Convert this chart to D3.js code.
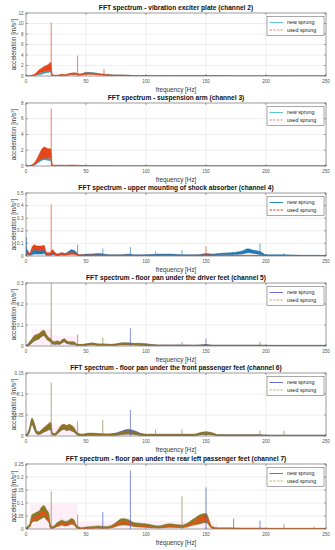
<!DOCTYPE html>
<html><head><meta charset="utf-8">
<script src="https://cdn.jsdelivr.net/npm/d3@7"></script>
<style>body{margin:0;background:#fff}svg{display:block}text{font-family:"Liberation Sans",Arial,Helvetica,sans-serif}</style>
</head><body><svg id="c" width="335" height="550"></svg>
<script>
// ---------------- DATA ----------------
const freqHz = [0,1,3,5,7,9,11,13,15,17,
  19,20.5,22,24,26,28,30,32,34,36,
  38,40,42,44,47,50,55,60,65,70,
  75,80,85,90,95,100,110,120,130,140,
  145,150,155,160,170,180,185,190,195,200,
  215,230,250];
const xTicks = [0,50,100,150,200,250];
const legendLabels = ["new sprung","used sprung"];
const titles = [
  "FFT spectrum - vibration exciter plate (channel 2)",
  "FFT spectrum - suspension arm (channel 3)",
  "FFT spectrum - upper mounting of shock absorber (channel 4)",
  "FFT spectrum - floor pan under the driver feet (channel 5)",
  "FFT spectrum - floor pan under the front passenger feet (channel 6)",
  "FFT spectrum - floor pan under the rear left passenger feet (channel 7)"
];
const yMaxes = [12, 8, 0.5, 0.3, 0.15, 0.25];
const yTicks2 = [0,2,4,6,8,10,12];
const yTicks3 = [0,2,4,6,8];
const yTicks4 = [0,0.1,0.2,0.3,0.4,0.5];
const yTicks5 = [0,0.1,0.2,0.3];
const yTicks6 = [0,0.05,0.1,0.15];
const yTicks7 = [0,0.05,0.1,0.15,0.2,0.25];

// channel 2
const ch2_usedHi = [0,0,0.05,0.15,0.35,0.7,1.2,1.5,1.8,2.0, 2.3,2.6,0.3,0.15,0.15,0.25,0.35,0.25,0.35,0.5, 0.55,0.6,0.55,0.4,0.45,0.6,0.55,0.45,0.3,0.25, 0.2,0.2,0.15,0.08,0.06,0.05,0.04,0.04,0.03,0.03, 0.03,0.03,0.03,0.03,0.02,0.02,0.02,0.02,0.02,0.02, 0.02,0.01,0.01];
const ch2_usedLo = [0,0,0.02,0.05,0.15,0.3,0.5,0.7,0.8,0.9, 1.0,1.1,0.1,0.05,0.05,0.1,0.15,0.1,0.15,0.25, 0.3,0.3,0.3,0.2,0.2,0.3,0.3,0.2,0.15,0.1, 0.08,0.08,0.06,0.03,0.02,0.02,0.01,0.01,0.01,0.01, 0.01,0.01,0.01,0.01,0.01,0.01,0.01,0.01,0.01,0.01, 0.01,0,0];
const ch2_newHi = [0,0,0.03,0.08,0.15,0.3,0.45,0.6,0.75,0.85, 0.95,1.0,0.15,0.08,0.08,0.15,0.2,0.15,0.2,0.35, 0.4,0.45,0.45,0.3,0.45,0.72,0.65,0.5,0.35,0.25, 0.2,0.2,0.15,0.08,0.06,0.05,0.04,0.04,0.03,0.03, 0.03,0.03,0.03,0.03,0.02,0.02,0.02,0.02,0.02,0.02, 0.02,0.01,0.01];
const ch2_newLo = [0,0,0.01,0.03,0.08,0.15,0.25,0.35,0.5,0.6, 0.7,0.75,0.05,0.03,0.03,0.06,0.1,0.06,0.1,0.2, 0.25,0.25,0.25,0.15,0.25,0.5,0.45,0.3,0.2,0.12, 0.1,0.1,0.06,0.03,0.02,0.02,0.01,0.01,0.01,0.01, 0.01,0.01,0.01,0.01,0.01,0.01,0.01,0.01,0.01,0.01, 0.01,0,0];
const ch2_spikeHz = [21,30,43,65];
const ch2_spikeVal = [10.2,0.4,3.9,1.3];
const ch2_spikeSeries = ["used","used","used","used"];

// channel 3
const ch3_usedHi = [0,0,0.05,0.15,0.4,0.9,1.5,2.1,2.4,2.3, 2.2,2.2,0.15,0.1,0.1,0.1,0.1,0.1,0.1,0.12, 0.12,0.12,0.1,0.08,0.05,0.03,0.02,0.02,0.02,0.01, 0.01,0.01,0.01,0.01,0.01,0.01,0.01,0.01,0.01,0.01, 0.01,0.01,0.01,0.01,0.01,0.01,0.01,0.01,0.01,0.01, 0.01,0.01,0.01];
const ch3_usedLo = [0,0,0.02,0.05,0.2,0.4,0.7,0.9,1.0,1.0, 1.0,1.0,0.05,0.03,0.03,0.03,0.03,0.03,0.03,0.04, 0.04,0.04,0.03,0.02,0.01,0.01,0,0,0,0, 0,0,0,0,0,0,0,0,0,0, 0,0,0,0,0,0,0,0,0,0, 0,0,0];
const ch3_newHi = [0,0,0.03,0.1,0.25,0.5,0.8,1.0,1.1,1.0, 0.95,0.9,0.1,0.05,0.05,0.05,0.05,0.05,0.05,0.06, 0.06,0.06,0.05,0.04,0.03,0.02,0.01,0.01,0.01,0.01, 0.01,0.01,0.01,0.01,0.01,0.01,0.01,0.01,0.01,0.01, 0.01,0.01,0.01,0.01,0.01,0.01,0.01,0.01,0.01,0.01, 0.01,0.01,0.01];
const ch3_newLo = [0,0,0.01,0.05,0.1,0.3,0.5,0.7,0.8,0.75, 0.7,0.7,0.03,0.02,0.02,0.02,0.02,0.02,0.02,0.02, 0.02,0.02,0.02,0.01,0.01,0,0,0,0,0, 0,0,0,0,0,0,0,0,0,0, 0,0,0,0,0,0,0,0,0,0, 0,0,0];
const ch3_spikeHz = [21];
const ch3_spikeVal = [7.3];
const ch3_spikeSeries = ["used"];

// channel 4
const ch4_usedHi = [0.03,0.04,0.02,0.07,0.09,0.08,0.08,0.08,0.085,0.03, 0.025,0.03,0.05,0.03,0.015,0.02,0.025,0.02,0.02,0.025, 0.03,0.025,0.02,0.01,0.01,0.008,0.01,0.008,0.008,0.006, 0.006,0.008,0.008,0.006,0.006,0.006,0.006,0.006,0.006,0.006, 0.008,0.01,0.008,0.006,0.006,0.006,0.006,0.006,0.006,0.005, 0.005,0.004,0.004];
const ch4_usedLo = [0.01,0.015,0.008,0.04,0.05,0.045,0.045,0.045,0.05,0.01, 0.01,0.01,0.02,0.01,0.005,0.008,0.01,0.008,0.008,0.01, 0.012,0.01,0.008,0.004,0.004,0.003,0.004,0.003,0.003,0.002, 0.002,0.003,0.003,0.002,0.002,0.002,0.002,0.002,0.002,0.002, 0.003,0.004,0.003,0.002,0.002,0.002,0.002,0.002,0.002,0.002, 0.002,0.001,0.001];
const ch4_newHi = [0.06,0.05,0.02,0.04,0.05,0.045,0.045,0.045,0.05,0.02, 0.02,0.02,0.04,0.025,0.015,0.02,0.025,0.02,0.025,0.04, 0.05,0.045,0.03,0.01,0.01,0.015,0.015,0.02,0.015,0.01, 0.01,0.01,0.015,0.01,0.01,0.01,0.015,0.015,0.01,0.01, 0.012,0.02,0.015,0.02,0.025,0.04,0.058,0.045,0.035,0.01, 0.01,0.005,0.005];
const ch4_newLo = [0.01,0.01,0.005,0.01,0.015,0.015,0.015,0.015,0.02,0.005, 0.005,0.005,0.01,0.008,0.004,0.006,0.008,0.006,0.01,0.02, 0.025,0.02,0.01,0.003,0.003,0.005,0.005,0.008,0.005,0.003, 0.003,0.003,0.005,0.003,0.003,0.003,0.005,0.005,0.003,0.003, 0.004,0.008,0.005,0.008,0.01,0.015,0.025,0.02,0.012,0.003, 0.003,0.001,0.001];
const ch4_spikeHz = [0.5,21,43,64,87,108,130,150,172,195,215];
const ch4_spikeVal = [0.15,0.41,0.09,0.06,0.07,0.035,0.045,0.075,0.03,0.1,0.02];
const ch4_spikeSeries = ["new","used","new","new","new","new","new","used","new","new","new"];

// channel 5
const ch5_usedHi = [0,0.005,0.02,0.035,0.05,0.055,0.06,0.07,0.075,0.055, 0.04,0.035,0.025,0.02,0.025,0.02,0.03,0.035,0.025,0.02, 0.02,0.02,0.01,0.008,0.008,0.01,0.015,0.01,0.01,0.008, 0.01,0.015,0.015,0.012,0.01,0.008,0.005,0.005,0.005,0.004, 0.005,0.006,0.004,0.004,0.004,0.004,0.004,0.004,0.004,0.003, 0.003,0.003,0.003];
const ch5_usedLo = [0,0,0.005,0.015,0.025,0.03,0.035,0.045,0.05,0.035, 0.025,0.02,0.01,0.008,0.01,0.008,0.015,0.02,0.012,0.01, 0.008,0.008,0.004,0.003,0.003,0.004,0.006,0.004,0.004,0.003, 0.004,0.006,0.006,0.005,0.004,0.003,0.002,0.002,0.002,0.001, 0.002,0.002,0.001,0.001,0.001,0.001,0.001,0.001,0.001,0.001, 0.001,0.001,0.001];
const ch5_newHi = [0,0.004,0.018,0.032,0.045,0.05,0.055,0.065,0.07,0.05, 0.036,0.03,0.022,0.018,0.022,0.018,0.027,0.032,0.022,0.018, 0.018,0.018,0.009,0.007,0.007,0.009,0.013,0.009,0.009,0.007, 0.009,0.014,0.014,0.012,0.013,0.011,0.005,0.005,0.005,0.004, 0.005,0.007,0.004,0.004,0.004,0.004,0.004,0.004,0.004,0.003, 0.003,0.003,0.003];
const ch5_newLo = ch5_usedLo;
const ch5_shadeFrom = [5,21.7];
const ch5_shadeTo = [21.7,43];
const ch5_shadeTop = [0.081,0.049];
const ch5_spikeHz = [21,43,64,87,130,150,195];
const ch5_spikeVal = [0.3,0.055,0.04,0.085,0.02,0.035,0.02];
const ch5_spikeSeries = ["used","used","used","new","used","new","used"];

// channel 6
const ch6_usedHi = [0.002,0.005,0.02,0.043,0.03,0.012,0.01,0.015,0.02,0.025, 0.03,0.033,0.008,0.006,0.012,0.02,0.027,0.028,0.025,0.028, 0.025,0.02,0.01,0.006,0.004,0.006,0.007,0.006,0.005,0.005, 0.006,0.01,0.013,0.011,0.006,0.004,0.004,0.004,0.004,0.004, 0.008,0.01,0.008,0.003,0.003,0.003,0.003,0.003,0.003,0.002, 0.002,0.002,0.002];
const ch6_usedLo = [0,0.001,0.01,0.028,0.015,0.005,0.004,0.006,0.01,0.012, 0.015,0.015,0.003,0.002,0.005,0.01,0.015,0.016,0.013,0.015, 0.012,0.01,0.004,0.002,0.001,0.002,0.002,0.002,0.002,0.002, 0.002,0.004,0.005,0.004,0.002,0.001,0.001,0.001,0.001,0.001, 0.003,0.004,0.003,0.001,0.001,0.001,0.001,0.001,0.001,0.001, 0.001,0.001,0.001];
const ch6_newHi = [0.002,0.005,0.018,0.04,0.028,0.011,0.009,0.014,0.018,0.023, 0.028,0.03,0.007,0.005,0.011,0.018,0.025,0.026,0.023,0.026, 0.023,0.018,0.009,0.005,0.004,0.005,0.006,0.005,0.005,0.005, 0.007,0.012,0.016,0.013,0.007,0.004,0.004,0.004,0.004,0.004, 0.007,0.009,0.007,0.003,0.003,0.003,0.003,0.003,0.003,0.002, 0.002,0.002,0.002];
const ch6_newLo = ch6_usedLo;
const ch6_shadeFrom = [0,14.5,43];
const ch6_shadeTo = [14.5,43,158];
const ch6_shadeTop = [0.006,0.027,0.005];
const ch6_spikeHz = [21,43,64,87,108,130,150,195,215];
const ch6_spikeVal = [0.127,0.035,0.038,0.062,0.015,0.016,0.012,0.013,0.012];
const ch6_spikeSeries = ["used","used","used","new","used","used","used","used","used"];

// channel 7
const ch7_newHi = [0.005,0.01,0.02,0.055,0.06,0.065,0.07,0.085,0.09,0.075, 0.06,0.015,0.01,0.015,0.025,0.03,0.035,0.03,0.03,0.035, 0.04,0.035,0.015,0.008,0.006,0.008,0.01,0.012,0.01,0.012, 0.025,0.04,0.037,0.025,0.022,0.02,0.012,0.02,0.015,0.04, 0.055,0.06,0.01,0.005,0.005,0.004,0.004,0.004,0.004,0.003, 0.003,0.003,0.003];
const ch7_newLo = [0,0.002,0.008,0.025,0.03,0.03,0.035,0.04,0.045,0.035, 0.025,0.004,0.003,0.006,0.01,0.012,0.015,0.012,0.012,0.015, 0.018,0.015,0.005,0.002,0.002,0.002,0.003,0.004,0.003,0.004, 0.01,0.015,0.014,0.01,0.008,0.007,0.004,0.007,0.005,0.015, 0.02,0.025,0.003,0.001,0.001,0.001,0.001,0.001,0.001,0.001, 0.001,0.001,0.001];
const ch7_usedHi = [0,0.002,0.008,0.04,0.045,0.05,0.055,0.068,0.07,0.055, 0.04,0.004,0.003,0.006,0.015,0.02,0.025,0.02,0.02,0.025, 0.03,0.025,0.005,0.002,0.002,0.002,0.003,0.004,0.003,0.004, 0.018,0.03,0.028,0.015,0.012,0.01,0.006,0.012,0.008,0.03, 0.045,0.05,0.003,0.001,0.001,0.001,0.001,0.001,0.001,0.001, 0.001,0.001,0.001];
const ch7_usedLo = [0,0.002,0.008,0.03,0.035,0.038,0.042,0.05,0.055,0.042, 0.03,0.004,0.003,0.006,0.011,0.014,0.018,0.014,0.014,0.018, 0.022,0.018,0.005,0.002,0.002,0.002,0.003,0.004,0.003,0.004, 0.012,0.02,0.018,0.011,0.009,0.008,0.004,0.008,0.006,0.02, 0.028,0.032,0.003,0.001,0.001,0.001,0.001,0.001,0.001,0.001, 0.001,0.001,0.001];
const ch7_shadeFrom = [3.3,43];
const ch7_shadeTo = [43,160];
const ch7_shadeTop = [0.1,0.03];
const ch7_spikeHz = [21,43,64,87,130,150,173,195,215,240];
const ch7_spikeVal = [0.145,0.055,0.065,0.225,0.125,0.16,0.04,0.032,0.02,0.01];
const ch7_spikeSeries = ["used","used","new","new","used","new","new","new","used","used"];

// ---------------- LAYOUT / STYLE ----------------
const L = 26, R = 326;
const tops = [13,103,193,283,373,464];
const bottoms = [76,166,256,346,436,529];
const styles = [
  {newFill:"#2f9fbf", usedFill:"#e4471c", newSpike:"#2f9fbf", usedSpike:"#e4471c", newLeg:"#5cc3cf", usedLeg:"#ef8a7c"},
  {newFill:"#2f9fbf", usedFill:"#e4471c", newSpike:"#2f9fbf", usedSpike:"#e4471c", newLeg:"#5cc3cf", usedLeg:"#ef8a7c"},
  {newFill:"#1f7ab3", usedFill:"#e2421b", newSpike:"#2a80b8", usedSpike:"#d9541c", newLeg:"#2a80b8", usedLeg:"#e2421b"},
  {newFill:"#5b5fc0", usedFill:"#8c7424", newSpike:"#5560c8", usedSpike:"#8f8250", newLeg:"#6c6cd0", usedLeg:"#c9b26a"},
  {newFill:"#5b5fc0", usedFill:"#8c7424", newSpike:"#5560c8", usedSpike:"#8f8250", newLeg:"#6c6cd0", usedLeg:"#c9b26a"},
  {newFill:"#857a28", usedFill:"#dc561c", newSpike:"#4f5cc8", usedSpike:"#8f8250", newLeg:"#6c6cd0", usedLeg:"#c9b26a"}
];
const data = [
  {nH:ch2_newHi,nL:ch2_newLo,uH:ch2_usedHi,uL:ch2_usedLo,sHz:ch2_spikeHz,sV:ch2_spikeVal,sS:ch2_spikeSeries,yt:yTicks2},
  {nH:ch3_newHi,nL:ch3_newLo,uH:ch3_usedHi,uL:ch3_usedLo,sHz:ch3_spikeHz,sV:ch3_spikeVal,sS:ch3_spikeSeries,yt:yTicks3},
  {nH:ch4_newHi,nL:ch4_newLo,uH:ch4_usedHi,uL:ch4_usedLo,sHz:ch4_spikeHz,sV:ch4_spikeVal,sS:ch4_spikeSeries,yt:yTicks4},
  {nH:ch5_newHi,nL:ch5_newLo,uH:ch5_usedHi,uL:ch5_usedLo,sHz:ch5_spikeHz,sV:ch5_spikeVal,sS:ch5_spikeSeries,yt:yTicks5,
    shF:ch5_shadeFrom,shT:ch5_shadeTo,shY:ch5_shadeTop},
  {nH:ch6_newHi,nL:ch6_newLo,uH:ch6_usedHi,uL:ch6_usedLo,sHz:ch6_spikeHz,sV:ch6_spikeVal,sS:ch6_spikeSeries,yt:yTicks6,
    shF:ch6_shadeFrom,shT:ch6_shadeTo,shY:ch6_shadeTop},
  {nH:ch7_newHi,nL:ch7_newLo,uH:ch7_usedHi,uL:ch7_usedLo,sHz:ch7_spikeHz,sV:ch7_spikeVal,sS:ch7_spikeSeries,yt:yTicks7,
    shF:ch7_shadeFrom,shT:ch7_shadeTo,shY:ch7_shadeTop}
];

const svg = d3.select("#c");
svg.append("rect").attr("width",335).attr("height",550).attr("fill","#fff");
const fmt = d3.format("~g");

data.forEach((p, i) => {
  const T = tops[i], B = bottoms[i], st = styles[i];
  const x = d3.scaleLinear().domain([0,250]).range([L,R]);
  const y = d3.scaleLinear().domain([0,yMaxes[i]]).range([B,T]);
  const g = svg.append("g");
  const clipId = "clip"+i;
  svg.append("clipPath").attr("id",clipId).append("rect")
    .attr("x",L).attr("y",T).attr("width",R-L).attr("height",B-T);

  // grid
  g.selectAll(".gx").data(xTicks).enter().append("line")
    .attr("x1",d=>x(d)).attr("x2",d=>x(d)).attr("y1",T).attr("y2",B)
    .attr("stroke","#e3e3e3").attr("stroke-width",0.6);
  g.selectAll(".gy").data(p.yt).enter().append("line")
    .attr("x1",L).attr("x2",R).attr("y1",d=>y(d)).attr("y2",d=>y(d))
    .attr("stroke","#e3e3e3").attr("stroke-width",0.6);

  const plot = g.append("g").attr("clip-path",`url(#${clipId})`);
  // shading
  if (p.shF) {
    p.shF.forEach((f,k) => {
      plot.append("rect").attr("x",x(f)).attr("width",x(p.shT[k])-x(f))
        .attr("y",y(p.shY[k])).attr("height",B-y(p.shY[k]))
        .attr("fill","#fdeef8");
    });
  }
  const idx = d3.range(freqHz.length);
  const band = (hi,lo) => d3.area().curve(d3.curveMonotoneX)
    .x(k=>x(freqHz[k])).y0(k=>y(lo[k])).y1(k=>y(hi[k]));
  plot.append("path").attr("d",band(p.nH,p.nL)(idx)).attr("fill",st.newFill)
    .attr("stroke",st.newFill).attr("stroke-width",0.5);
  plot.append("path").attr("d",band(p.uH,p.uL)(idx)).attr("fill",st.usedFill)
    .attr("stroke",st.usedFill).attr("stroke-width",0.5);
  // spikes
  p.sHz.forEach((f,k) => {
    plot.append("line").attr("x1",x(f)).attr("x2",x(f))
      .attr("y1",y(0)).attr("y2",y(p.sV[k]))
      .attr("stroke",p.sS[k]==="new"?st.newSpike:st.usedSpike).attr("stroke-width",0.7);
  });

  // box
  g.append("rect").attr("x",L).attr("y",T).attr("width",R-L).attr("height",B-T)
    .attr("fill","none").attr("stroke","#6b6b6b").attr("stroke-width",0.6);
  // ticks
  xTicks.forEach(t => {
    g.append("line").attr("x1",x(t)).attr("x2",x(t)).attr("y1",B).attr("y2",B-2).attr("stroke","#555").attr("stroke-width",0.5);
    g.append("line").attr("x1",x(t)).attr("x2",x(t)).attr("y1",T).attr("y2",T+2).attr("stroke","#555").attr("stroke-width",0.5);
    g.append("text").attr("x",x(t)).attr("y",B+7.3).attr("text-anchor","middle")
      .attr("font-size",4.6).attr("fill","#555").text(fmt(t));
  });
  p.yt.forEach(t => {
    g.append("line").attr("x1",L).attr("x2",L+2).attr("y1",y(t)).attr("y2",y(t)).attr("stroke","#555").attr("stroke-width",0.5);
    g.append("line").attr("x1",R).attr("x2",R-2).attr("y1",y(t)).attr("y2",y(t)).attr("stroke","#555").attr("stroke-width",0.5);
    g.append("text").attr("x",L-2.5).attr("y",y(t)+1.6).attr("text-anchor","end")
      .attr("font-size",4.6).attr("fill","#555").text(fmt(t));
  });

  // title
  g.append("text").attr("x",(L+R)/2).attr("y",T-3).attr("text-anchor","middle")
    .attr("font-size",6.6).attr("font-weight","bold").attr("fill","#111").text(titles[i]);
  // x label
  g.append("text").attr("x",(L+R)/2).attr("y",B+15.5).attr("text-anchor","middle")
    .attr("font-size",6.3).attr("fill","#333").text("frequency [Hz]");
  // y label
  const yl = g.append("text").attr("transform",`translate(${L-10},${(T+B)/2}) rotate(-90)`)
    .attr("text-anchor","middle").attr("font-size",6.3).attr("fill","#333");
  yl.append("tspan").text("acceleration [m/s");
  yl.append("tspan").attr("font-size",4.2).attr("dy",-2.4).text("2");
  yl.append("tspan").attr("dy",2.4).text("]");

  // legend
  const lx = R-59, ly = T+3.5;
  g.append("rect").attr("x",lx).attr("y",ly).attr("width",57).attr("height",19)
    .attr("fill","#fff").attr("stroke","#555").attr("stroke-width",0.5);
  [[st.newLeg,null],[st.usedLeg,"2.5,1.2"]].forEach((s,k) => {
    const yy = ly + 6 + k*7.5;
    const ln = g.append("line").attr("x1",lx+2.5).attr("x2",lx+16).attr("y1",yy).attr("y2",yy)
      .attr("stroke",s[0]).attr("stroke-width",1);
    if (s[1]) ln.attr("stroke-dasharray",s[1]);
    g.append("text").attr("x",lx+20).attr("y",yy+1.8).attr("font-size",5.3).attr("fill","#222").text(legendLabels[k]);
  });
});
</script></body></html>
